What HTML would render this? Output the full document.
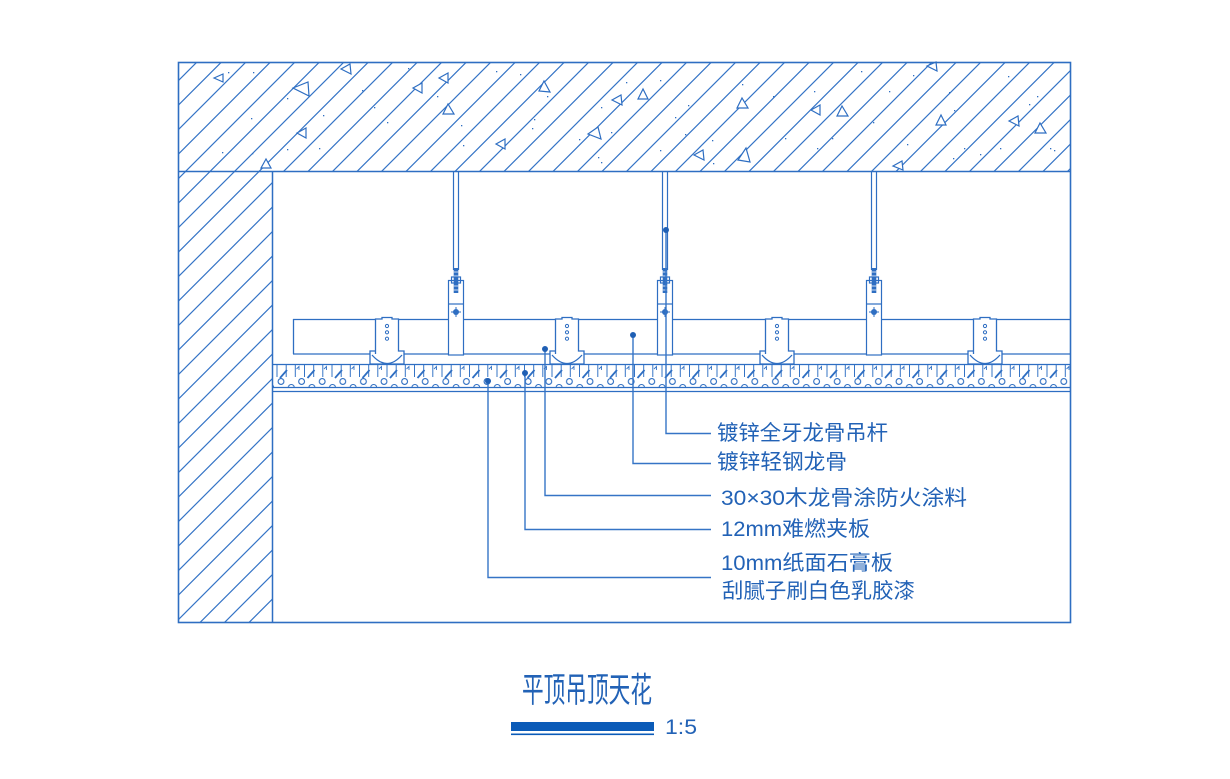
<!DOCTYPE html>
<html><head><meta charset="utf-8"><style>
html,body{margin:0;padding:0;background:#fff;}
svg{display:block;}
text{font-family:"Liberation Sans","Noto Sans CJK SC",sans-serif;fill:#2262b6;}
</style></head><body>
<svg width="1230" height="779" viewBox="0 0 1230 779" xmlns="http://www.w3.org/2000/svg">
<defs>
 <pattern id="h" x="14" y="0" width="24.5" height="24.5" patternUnits="userSpaceOnUse">
  <path d="M-1,25.5 L25.5,-1 M-2,2 L2,-2 M22.5,26.5 L26.5,22.5" stroke="#3574c6" stroke-width="1.2" fill="none"/>
 </pattern>
 <pattern id="tk" x="276" y="364" width="27.5" height="40" patternUnits="userSpaceOnUse">
  <path d="M1,0 V13 M10.2,0 V13 M19.3,0 V13" stroke="#3574c6" stroke-width="1" fill="none"/>
  <path d="M4,14 L11,6" stroke="#2e6ec2" stroke-width="1.8" fill="none"/>
  <path d="M20.5,5 L23,2.5 L23,6" stroke="#3574c6" stroke-width="0.9" fill="none"/>
 </pattern>
 <pattern id="cp" x="276" y="364" width="20.6" height="40" patternUnits="userSpaceOnUse">
  <circle cx="5" cy="17.5" r="2.9" fill="#fff" stroke="#2e6ec2" stroke-width="1.1"/>
  <path d="M12.3,23.5 A3,3 0 0 1 18.3,23.5" fill="none" stroke="#2e6ec2" stroke-width="1.1"/>
 </pattern>
</defs>

<!-- hatched concrete -->
<rect x="178" y="63" width="892" height="108" fill="url(#h)"/>
<rect x="178" y="171" width="94" height="451" fill="url(#h)"/>

<!-- aggregate triangles -->
<g fill="#fff" stroke="#2e6ec2" stroke-width="1.2">
 <polygon points="214,78 223,74 223,82"/>
 <polygon points="293,88 308,82 309,96"/>
 <polygon points="341,69 350,64 351,74"/>
 <polygon points="413,88 422,83 422,93"/>
 <polygon points="439,78 448,73 448,83"/>
 <polygon points="448,104 443,114 454,114"/>
 <polygon points="297,133 306,128 306,138"/>
 <polygon points="266,159 261,168 271,168"/>
 <polygon points="544,81 539,91 550,92"/>
 <polygon points="612,100 621,95 622,105"/>
 <polygon points="643,89 638,99 648,99"/>
 <polygon points="588,134 598,127 601,139"/>
 <polygon points="496,144 505,139 505,149"/>
 <polygon points="742,98 737,108 748,108"/>
 <polygon points="694,155 703,150 704,160"/>
 <polygon points="746,148 738,160 750,162"/>
 <polygon points="927,66 936,62 937,71"/>
 <polygon points="811,110 820,105 820,115"/>
 <polygon points="842,106 837,116 848,116"/>
 <polygon points="941,115 936,125 946,125"/>
 <polygon points="1009,121 1018,116 1019,126"/>
 <polygon points="1040,123 1035,133 1046,133"/>
 <polygon points="893,166 902,161 903,170"/>
</g>
<g fill="#2e6ec2">
 <rect x="228" y="72" width="1.3" height="1.3"/><rect x="253" y="72" width="1.3" height="1.3"/>
 <rect x="287" y="98" width="1.3" height="1.3"/><rect x="323" y="115" width="1.3" height="1.3"/>
 <rect x="251" y="118" width="1.3" height="1.3"/><rect x="222" y="152" width="1.3" height="1.3"/>
 <rect x="252" y="153" width="1.3" height="1.3"/><rect x="287" y="149" width="1.3" height="1.3"/>
 <rect x="319" y="148" width="1.3" height="1.3"/><rect x="362" y="90" width="1.3" height="1.3"/>
 <rect x="374" y="107" width="1.3" height="1.3"/><rect x="387" y="122" width="1.3" height="1.3"/>
 <rect x="408" y="68" width="1.3" height="1.3"/><rect x="437" y="96" width="1.3" height="1.3"/>
 <rect x="461" y="125" width="1.3" height="1.3"/><rect x="463" y="145" width="1.3" height="1.3"/>
 <rect x="496" y="71" width="1.3" height="1.3"/><rect x="520" y="74" width="1.3" height="1.3"/>
 <rect x="534" y="119" width="1.3" height="1.3"/><rect x="532" y="128" width="1.3" height="1.3"/>
 <rect x="547" y="96" width="1.3" height="1.3"/><rect x="579" y="139" width="1.3" height="1.3"/>
 <rect x="598" y="157" width="1.3" height="1.3"/><rect x="601" y="162" width="1.3" height="1.3"/>
 <rect x="601" y="107" width="1.3" height="1.3"/><rect x="611" y="132" width="1.3" height="1.3"/>
 <rect x="626" y="82" width="1.3" height="1.3"/><rect x="660" y="80" width="1.3" height="1.3"/>
 <rect x="675" y="117" width="1.3" height="1.3"/><rect x="688" y="105" width="1.3" height="1.3"/>
 <rect x="660" y="150" width="1.3" height="1.3"/><rect x="685" y="134" width="1.3" height="1.3"/>
 <rect x="712" y="140" width="1.3" height="1.3"/><rect x="713" y="163" width="1.3" height="1.3"/>
 <rect x="742" y="84" width="1.3" height="1.3"/><rect x="773" y="96" width="1.3" height="1.3"/>
 <rect x="785" y="138" width="1.3" height="1.3"/><rect x="814" y="91" width="1.3" height="1.3"/>
 <rect x="817" y="148" width="1.3" height="1.3"/><rect x="832" y="138" width="1.3" height="1.3"/>
 <rect x="861" y="71" width="1.3" height="1.3"/><rect x="889" y="91" width="1.3" height="1.3"/>
 <rect x="873" y="122" width="1.3" height="1.3"/><rect x="907" y="144" width="1.3" height="1.3"/>
 <rect x="913" y="75" width="1.3" height="1.3"/><rect x="949" y="92" width="1.3" height="1.3"/>
 <rect x="954" y="110" width="1.3" height="1.3"/><rect x="953" y="158" width="1.3" height="1.3"/>
 <rect x="964" y="148" width="1.3" height="1.3"/><rect x="980" y="154" width="1.3" height="1.3"/>
 <rect x="1008" y="76" width="1.3" height="1.3"/><rect x="1029" y="104" width="1.3" height="1.3"/>
 <rect x="1037" y="96" width="1.3" height="1.3"/><rect x="1050" y="148" width="1.3" height="1.3"/>
 <rect x="1054" y="150" width="1.3" height="1.3"/><rect x="1000" y="148" width="1.3" height="1.3"/>
</g>

<!-- frame -->
<g stroke="#2e6ec2" fill="none">
 <rect x="178.5" y="62.5" width="892" height="560" stroke-width="1.6"/>
 <line x1="178" y1="171.5" x2="1070" y2="171.5" stroke-width="1.5"/>
 <line x1="272.5" y1="171" x2="272.5" y2="622" stroke-width="1.5"/>
</g>

<!-- board band -->
<rect x="272" y="364" width="798" height="15" fill="url(#tk)"/>
<rect x="272" y="364" width="798" height="28" fill="url(#cp)"/>
<g stroke="#2e6ec2" stroke-width="1.3">
 <line x1="272" y1="364.5" x2="1070" y2="364.5"/>
 <line x1="272" y1="387.5" x2="1070" y2="387.5"/>
 <line x1="272" y1="391.5" x2="1070" y2="391.5"/>
</g>

<!-- wood batten -->
<g stroke="#2e6ec2" stroke-width="1.3" fill="none">
 <line x1="293" y1="319.5" x2="1070" y2="319.5"/>
 <line x1="293" y1="354" x2="1070" y2="354"/>
 <line x1="293.5" y1="319" x2="293.5" y2="354"/>
</g>

<!-- clips -->
<g stroke="#2e6ec2" stroke-width="1.3" fill="#fff">
 <g transform="translate(387,0)">
  <path d="M-11.5,354 V319 H-5 V317.5 H5 V319 H11.5 V351 H17 V364 H-17 V351 H-11.5 Z"/>
  <path d="M-15,355 Q0,372 15,355" fill="none"/>
  <circle cx="0" cy="326" r="1.6" fill="none" stroke-width="1"/><circle cx="0" cy="332.3" r="1.6" fill="none" stroke-width="1"/><circle cx="0" cy="338.7" r="1.6" fill="none" stroke-width="1"/>
 </g>
 <g transform="translate(567,0)">
  <path d="M-11.5,354 V319 H-5 V317.5 H5 V319 H11.5 V351 H17 V364 H-17 V351 H-11.5 Z"/>
  <path d="M-15,355 Q0,372 15,355" fill="none"/>
  <circle cx="0" cy="326" r="1.6" fill="none" stroke-width="1"/><circle cx="0" cy="332.3" r="1.6" fill="none" stroke-width="1"/><circle cx="0" cy="338.7" r="1.6" fill="none" stroke-width="1"/>
 </g>
 <g transform="translate(777,0)">
  <path d="M-11.5,354 V319 H-5 V317.5 H5 V319 H11.5 V351 H17 V364 H-17 V351 H-11.5 Z"/>
  <path d="M-15,355 Q0,372 15,355" fill="none"/>
  <circle cx="0" cy="326" r="1.6" fill="none" stroke-width="1"/><circle cx="0" cy="332.3" r="1.6" fill="none" stroke-width="1"/><circle cx="0" cy="338.7" r="1.6" fill="none" stroke-width="1"/>
 </g>
 <g transform="translate(985,0)">
  <path d="M-11.5,354 V319 H-5 V317.5 H5 V319 H11.5 V351 H17 V364 H-17 V351 H-11.5 Z"/>
  <path d="M-15,355 Q0,372 15,355" fill="none"/>
  <circle cx="0" cy="326" r="1.6" fill="none" stroke-width="1"/><circle cx="0" cy="332.3" r="1.6" fill="none" stroke-width="1"/><circle cx="0" cy="338.7" r="1.6" fill="none" stroke-width="1"/>
 </g>
</g>

<!-- hangers -->
<g stroke="#2e6ec2" stroke-width="1.2" fill="#fff">
 <g transform="translate(456,0)">
  <line x1="-2.5" y1="171" x2="-2.5" y2="270"/><line x1="2.5" y1="171" x2="2.5" y2="270"/>
  <rect x="-7.5" y="280.5" width="15" height="74.5"/>
  <line x1="-7.5" y1="304" x2="7.5" y2="304"/>
  <rect x="-2.3" y="268" width="4.6" height="25" fill="#2e6ec2" stroke="none"/>
  <path d="M-2.3,272 H2.3 M-2.3,276 H2.3 M-2.3,286 H2.3 M-2.3,290 H2.3" stroke="#fff" stroke-width="0.8"/>
  <rect x="-4.5" y="277" width="9" height="6" fill="none"/>
  <circle cx="0" cy="312" r="3" fill="#2e6ec2" stroke="none"/>
  <path d="M-5,312 H5 M0,307 V317" stroke-width="1"/>
 </g>
 <g transform="translate(665,0)">
  <line x1="-2.5" y1="171" x2="-2.5" y2="270"/><line x1="2.5" y1="171" x2="2.5" y2="270"/>
  <rect x="-7.5" y="280.5" width="15" height="74.5"/>
  <line x1="-7.5" y1="304" x2="7.5" y2="304"/>
  <rect x="-2.3" y="268" width="4.6" height="25" fill="#2e6ec2" stroke="none"/>
  <path d="M-2.3,272 H2.3 M-2.3,276 H2.3 M-2.3,286 H2.3 M-2.3,290 H2.3" stroke="#fff" stroke-width="0.8"/>
  <rect x="-4.5" y="277" width="9" height="6" fill="none"/>
  <circle cx="0" cy="312" r="3" fill="#2e6ec2" stroke="none"/>
  <path d="M-5,312 H5 M0,307 V317" stroke-width="1"/>
 </g>
 <g transform="translate(874,0)">
  <line x1="-2.5" y1="171" x2="-2.5" y2="270"/><line x1="2.5" y1="171" x2="2.5" y2="270"/>
  <rect x="-7.5" y="280.5" width="15" height="74.5"/>
  <line x1="-7.5" y1="304" x2="7.5" y2="304"/>
  <rect x="-2.3" y="268" width="4.6" height="25" fill="#2e6ec2" stroke="none"/>
  <path d="M-2.3,272 H2.3 M-2.3,276 H2.3 M-2.3,286 H2.3 M-2.3,290 H2.3" stroke="#fff" stroke-width="0.8"/>
  <rect x="-4.5" y="277" width="9" height="6" fill="none"/>
  <circle cx="0" cy="312" r="3" fill="#2e6ec2" stroke="none"/>
  <path d="M-5,312 H5 M0,307 V317" stroke-width="1"/>
 </g>
</g>

<!-- leaders -->
<g stroke="#3574c6" stroke-width="1.4" fill="none">
 <polyline points="666,230 666,433.5 711,433.5"/>
 <polyline points="633,335 633,463.5 711,463.5"/>
 <polyline points="545,349 545,495.5 711,495.5"/>
 <polyline points="525,373 525,529.5 711,529.5"/>
 <polyline points="488,381 488,577.5 711,577.5"/>
</g>
<g fill="#1f5fb4">
 <circle cx="666" cy="230" r="3"/>
 <circle cx="633" cy="335" r="3"/>
 <circle cx="545" cy="349" r="3"/>
 <circle cx="525" cy="373" r="3"/>
 <circle cx="488" cy="381" r="3"/>
</g>

<!-- labels -->
<g font-size="21">
 <text x="717" y="440" textLength="171" lengthAdjust="spacingAndGlyphs">镀锌全牙龙骨吊杆</text>
 <text x="717" y="469" textLength="130" lengthAdjust="spacingAndGlyphs">镀锌轻钢龙骨</text>
 <text x="721" y="505" textLength="246" lengthAdjust="spacingAndGlyphs">30×30木龙骨涂防火涂料</text>
 <text x="721" y="536" textLength="149" lengthAdjust="spacingAndGlyphs">12mm难燃夹板</text>
 <text x="721" y="570" textLength="172" lengthAdjust="spacingAndGlyphs">10mm纸面石膏板</text>
 <text x="722" y="598" textLength="193" lengthAdjust="spacingAndGlyphs">刮腻子刷白色乳胶漆</text>
</g>

<!-- title -->
<text transform="translate(522,702) scale(1,1.5)" font-size="23" textLength="130" lengthAdjust="spacingAndGlyphs">平顶吊顶天花</text>
<rect x="511" y="722" width="143" height="9" fill="#0b5bb8"/>
<rect x="511" y="733.5" width="143" height="1.6" fill="#0b5bb8"/>
<text x="665" y="734" font-size="21" textLength="32" lengthAdjust="spacingAndGlyphs">1:5</text>
</svg>
</body></html>
